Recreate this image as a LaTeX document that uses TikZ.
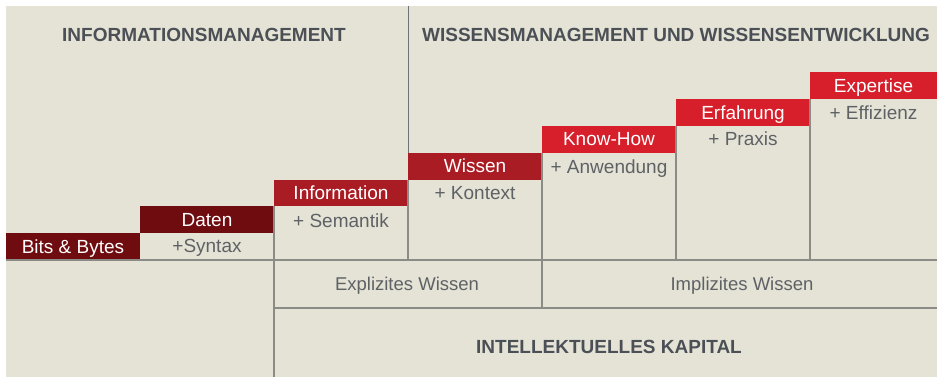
\documentclass[tikz,border=0pt]{standalone}
\usepackage{fontspec}
\setmainfont{Liberation Sans}
\usetikzlibrary{positioning}

\definecolor{paper}{HTML}{E5E3D6}
\definecolor{maroon}{HTML}{6F0C10}
\definecolor{wine}{HTML}{AA1C24}
\definecolor{signal}{HTML}{D71F2B}
\definecolor{ink}{HTML}{4B5056}
\definecolor{greytext}{HTML}{5E6265}
\definecolor{rule}{HTML}{8C8C86}

\begin{document}
\begin{tikzpicture}[x=1pt,y=-1pt,
    stepbar/.style={minimum width=134pt,minimum height=26.8pt,inner sep=0pt,outer sep=0pt,
                    text=white,text height=15pt,text depth=2pt,font=\fontsize{19}{21}\selectfont},
    gain/.style={text=greytext,inner sep=0pt,font=\fontsize{19}{21}\selectfont},
    heading/.style={text=ink,inner sep=0pt,anchor=base,font=\fontsize{19}{21}\selectfont\bfseries},
    cell/.style={draw=rule,line width=1.3pt},
    divider/.style={draw=ink!80,line width=0.9pt}]
  \useasboundingbox (0,0) rectangle (937,377);
  \fill[paper] (6,6) rectangle (937,377);
  \coordinate (top) at (6,6);
  \coordinate (split) at (273,308);
  \coordinate (corner) at (937,377);

  % steps
  \node[stepbar,fill=maroon,anchor=south west] (bits) at (6,260) {Bits \& Bytes};
  \node[stepbar,fill=maroon,above right=0pt and 0pt of bits]      (daten)     {Daten};
  \node[stepbar,fill=wine,above right=0pt and 0pt of daten]       (info)      {Information};
  \node[stepbar,fill=wine,above right=0pt and 0pt of info]        (wissen)    {Wissen};
  \node[stepbar,fill=signal,above right=0pt and 0pt of wissen]    (knowhow)   {Know-How};
  \node[stepbar,fill=signal,above right=0pt and 0pt of knowhow]   (erfahrung) {Erfahrung};
  \node[stepbar,fill=signal,minimum width=127pt,above right=0pt and 0pt of erfahrung] (expertise) {Expertise};

  \node[gain,below=19pt of daten.south,anchor=base]     (syntax)    {+Syntax};
  \node[gain,below=21pt of info.south,anchor=base]      (semantik)  {+ Semantik};
  \node[gain,below=20pt of wissen.south,anchor=base]    (kontext)   {+ Kontext};
  \node[gain,below=21pt of knowhow.south,anchor=base]   (anwendung) {+ Anwendung};
  \node[gain,below=20pt of erfahrung.south,anchor=base] (praxis)    {+ Praxis};
  \node[gain,below=20pt of expertise.south,anchor=base] (effizienz) {+ Effizienz};

  % grid
  \draw[cell] (bits.south west) -- (bits.south west -| corner);
  \draw[cell] (split) -- (split -| corner);
  \draw[cell] (info.south west) -- (info.south west |- corner);
  \draw[cell] (wissen.south west) -- (wissen.south west |- bits.south);
  \draw[cell] (knowhow.south west) -- (knowhow.south west |- split);
  \draw[cell] (erfahrung.south west) -- (erfahrung.south west |- bits.south);
  \draw[cell] (expertise.south west) -- (expertise.south west |- bits.south);
  \draw[divider] (wissen.north west) -- (wissen.north west |- top);

  \node[gain,anchor=base,font=\fontsize{18.5}{21}\selectfont] (explizit) at (407,290) {Explizites Wissen};
  \node[gain,anchor=base,font=\fontsize{18.5}{21}\selectfont] (implizit) at (742,290) {Implizites Wissen};

  \node[heading] (infomgmt)   at (204,41.5) {INFORMATIONSMANAGEMENT};
  \node[heading] (wissenmgmt) at (676,41.5) {WISSENSMANAGEMENT UND WISSENSENTWICKLUNG};
  \node[heading] (kapital)    at (609,353)  {INTELLEKTUELLES KAPITAL};
\end{tikzpicture}
\end{document}
